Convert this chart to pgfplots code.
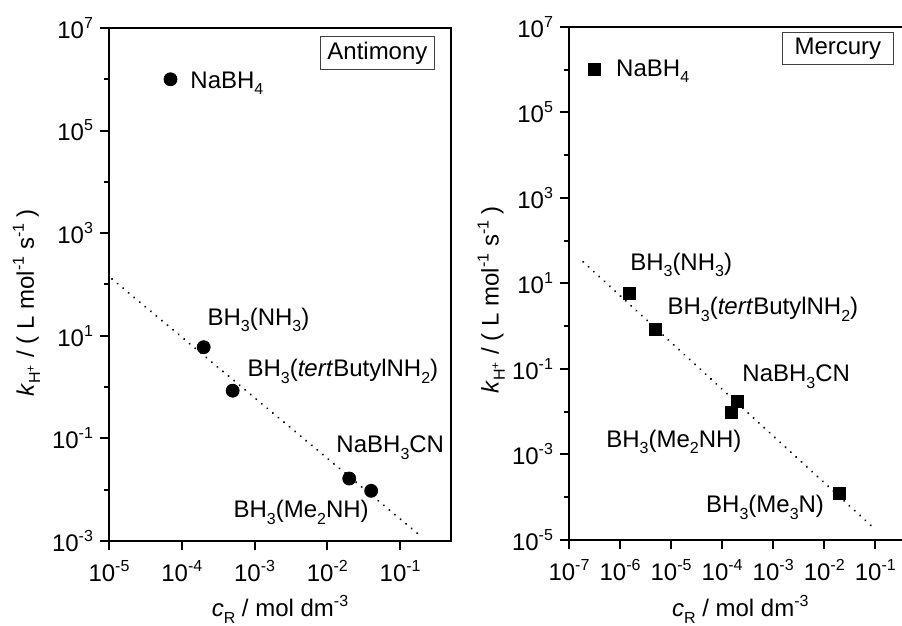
\documentclass[border=0pt]{standalone}
\usepackage{fontspec}
\setmainfont{Liberation Sans}
\usepackage{pgfplots}
\pgfplotsset{compat=1.18}
\newcommand{\fs}{\fontsize{12}{14}\selectfont}
\newcommand{\sub}[1]{\raisebox{-3.2pt}{\fontsize{8}{9}\selectfont #1}}
\newcommand{\sps}[1]{\raisebox{5pt}{\fontsize{8}{9}\selectfont #1}}
\tikzset{
  lab/.style={anchor=base west, inner sep=0pt, font=\fs},
  tag/.style={anchor=north east, draw=black!75, line width=0.5pt, inner xsep=2.5pt, inner ysep=2.5pt, minimum height=15pt, font=\fs},
}
\begin{document}
\begin{tikzpicture}
\path[use as bounding box] (0,0) rectangle (451pt,313pt);
\clip (0,0) rectangle (451pt,313pt);
% ---------- Antimony ----------
\begin{axis}[
  xmode=log, ymode=log,
  scale only axis, height=256.5pt, width=171pt,
  at={(54.5pt,42.5pt)}, anchor=south west,
  axis line style={line width=1pt},
  tick style={line width=1pt, black},
  major tick length=4.5pt, minor tick length=2.5pt,
  tick align=outside, xtick pos=bottom, ytick pos=left,
  tick label style={font=\fs}, label style={font=\fs},
  xticklabel style={yshift=-1.5pt},
  clip=false,
  xmin=1e-5, xmax=0.5, ymin=1e-3, ymax=1e7,
  xtick={1e-5,1e-4,1e-3,1e-2,1e-1},
  xticklabels={10\sps{-5},10\sps{-4},10\sps{-3},10\sps{-2},10\sps{-1}},
  ytick={1e-3,1e-1,1e1,1e3,1e5,1e7},
  yticklabels={10\sps{-3},10\sps{-1},10\sps{1},10\sps{3},10\sps{5},10\sps{7}},
  xminorticks=false, yminorticks=true,
  minor ytick={1e-2,1,1e2,1e4,1e6},
  xlabel={\textit{c}\sub{R} / mol dm\sps{-3}},
  ylabel={\textit{k}\sub{H\textsuperscript{+}} / ( L mol\sps{-1} s\sps{-1} )},
  xlabel style={at={(axis description cs:0.5,-0.148)}, anchor=base},
  ylabel style={at={(axis description cs:-0.22,0.464)}, anchor=base},
]
\addplot[black, line width=1.1pt, dash pattern=on 0.01pt off 3.6pt, line cap=round] coordinates {(1.1e-5,128) (0.174,0.0014)};
\addplot[only marks, mark=*, mark size=3.25pt, black] coordinates {
  (7e-5,1e6) (2e-4,6) (5e-4,0.85) (0.02,0.0165) (0.04,0.0095)};
\node[lab] at (axis description cs:0.237,0.883) {NaBH\sub{4}};
\node[lab] at (axis description cs:0.287,0.421) {BH\sub{3}(NH\sub{3})};
\node[lab] at (axis description cs:0.404,0.320) {BH\sub{3}(\textit{tert}ButylNH\sub{2})};
\node[lab] at (axis description cs:0.664,0.172) {NaBH\sub{3}CN};
\node[lab] at (axis description cs:0.363,0.045) {BH\sub{3}(Me\sub{2}NH)};
\node[tag, minimum width=57pt] at (axis description cs:0.953,0.984) {Antimony};
\end{axis}
% ---------- Mercury ----------
\begin{axis}[
  xmode=log, ymode=log,
  scale only axis, height=256.5pt, width=171pt,
  at={(284.5pt,43pt)}, anchor=south west,
  axis line style={line width=1pt},
  tick style={line width=1pt, black},
  major tick length=4.5pt, minor tick length=2.5pt,
  tick align=outside, xtick pos=bottom, ytick pos=left,
  tick label style={font=\fs}, label style={font=\fs},
  xticklabel style={yshift=-1.5pt},
  clip=false,
  xmin=1e-7, xmax=0.5, ymin=1e-5, ymax=1e7,
  xtick={1e-7,1e-6,1e-5,1e-4,1e-3,1e-2,1e-1},
  xticklabels={10\sps{-7},10\sps{-6},10\sps{-5},10\sps{-4},10\sps{-3},10\sps{-2},10\sps{-1}},
  ytick={1e-5,1e-3,1e-1,1e1,1e3,1e5,1e7},
  yticklabels={10\sps{-5},10\sps{-3},10\sps{-1},10\sps{1},10\sps{3},10\sps{5},10\sps{7}},
  xminorticks=false, yminorticks=true,
  minor ytick={1e-4,1e-2,1,1e2,1e4,1e6},
  xlabel={\textit{c}\sub{R} / mol dm\sps{-3}},
  ylabel={\textit{k}\sub{H\textsuperscript{+}} / ( L mol\sps{-1} s\sps{-1} )},
  xlabel style={at={(axis description cs:0.501,-0.150)}, anchor=base},
  ylabel style={at={(axis description cs:-0.206,0.468)}, anchor=base},
]
\addplot[black, line width=1.1pt, dash pattern=on 0.01pt off 3.6pt, line cap=round] coordinates {(1.9e-7,32) (0.089,2e-5)};
\addplot[only marks, mark=square*, mark size=3pt, black] coordinates {
  (3.1e-7,1e6) (1.5e-6,6) (5e-6,0.85) (2e-4,0.017) (1.5e-4,0.0095) (0.02,1.2e-4)};
\node[lab] at (axis description cs:0.137,0.904) {NaBH\sub{4}};
\node[lab] at (axis description cs:0.178,0.526) {BH\sub{3}(NH\sub{3})};
\node[lab] at (axis description cs:0.287,0.439) {BH\sub{3}(\textit{tert}ButylNH\sub{2})};
\node[lab] at (axis description cs:0.506,0.308) {NaBH\sub{3}CN};
\node[lab] at (axis description cs:0.108,0.181) {BH\sub{3}(Me\sub{2}NH)};
\node[lab] at (axis description cs:0.400,0.053) {BH\sub{3}(Me\sub{3}N)};
\node[tag, minimum width=55.5pt] at (axis description cs:0.950,0.990) {Mercury};
\end{axis}
\end{tikzpicture}
\end{document}
